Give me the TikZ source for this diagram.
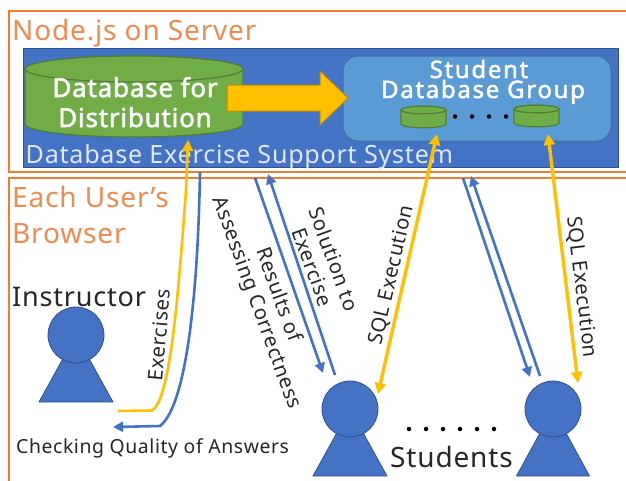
\documentclass[tikz,border=0pt]{standalone}
\usepackage{fontspec}
\setmainfont[LetterSpace=3,AutoFakeBold=2]{Noto Sans}
\newfontfamily\widefont[LetterSpace=7,AutoFakeBold=2]{Noto Sans}
\usetikzlibrary{arrows.meta}
\definecolor{orangeline}{HTML}{ED7D31}
\definecolor{orangetext}{HTML}{EE8B50}
\definecolor{bluefill}{HTML}{4472C4}
\definecolor{blueedge}{HTML}{2F528F}
\definecolor{greenfill}{HTML}{70AD47}
\definecolor{greenedge}{HTML}{507E32}
\definecolor{yellowfill}{HTML}{FFC000}
\definecolor{yellowedge}{HTML}{BC8C00}
\definecolor{skyfill}{HTML}{5B9BD5}
\definecolor{skyedge}{HTML}{41719C}
\definecolor{textdark}{HTML}{262626}
\definecolor{textlight}{HTML}{DEEBF7}
\tikzset{
  regionbox/.style={draw=orangeline,line width=1.6pt},
  headtext/.style={text=orangetext,font=\fontsize{28}{32}\selectfont,anchor=base west,inner sep=0pt},
  whitebold/.style={text=white,font=\fontsize{26}{28}\selectfont\bfseries,inner sep=0pt,anchor=base},
  whitegroup/.style={text=white,font=\fontsize{24}{26}\selectfont\widefont\bfseries,inner sep=0pt,anchor=base},
  darklabel/.style={text=textdark,inner sep=0pt,align=center},
  lab/.style={darklabel,font=\fontsize{20.3}{23}\selectfont},
  biglab/.style={darklabel,font=\fontsize{27}{30}\selectfont},
  cyl/.style={fill=greenfill,draw=greenedge,line width=1.2pt},
  person/.style={fill=bluefill,draw=blueedge,line width=0.8pt},
  yellowarrow/.style={draw=yellowfill,line width=2.6pt,-{Triangle[length=11pt,width=11pt]}},
  yellowboth/.style={draw=yellowfill,line width=3.4pt,{Triangle[length=11pt,width=11pt]}-{Triangle[length=11pt,width=11pt]}},
  bluearrow/.style={draw=bluefill,line width=2.6pt,-{Triangle[length=10pt,width=10pt]}},
  dotmark/.style={circle,fill=black,inner sep=0pt,minimum size=4.5pt}
}
\newcommand{\dbdrum}[5]{% xleft xright ytopcentre ybottomcentre ry
  \path[cyl] (#1,#3) -- (#1,#4) arc[start angle=180,end angle=360,x radius={(#2-#1)*0.5pt},y radius=#5pt] -- (#2,#3) arc[start angle=0,end angle=180,x radius={(#2-#1)*0.5pt},y radius=#5pt] -- cycle;
  \path[cyl] ({(#1+#2)/2},#3) ellipse[x radius={(#2-#1)*0.5pt},y radius=#5pt];
}
\newcommand{\personshape}[5]{% cx cy r base half width, basey
  \path[person] (#1-#4,#5) -- (#1,#2) -- (#1+#4,#5) -- cycle;
  \path[person] (#1,#2) circle[radius=#3];
}
\begin{document}
\begin{tikzpicture}[x=1pt,y=-1pt]
\useasboundingbox (0,0) rectangle (626,480);
\fill[white] (0,0) rectangle (626,480);
% regions
\draw[regionbox] (630,11) -- (9,11) -- (9,172) -- (630,172);
\draw[regionbox] (630,178) -- (9,178) -- (9,484);
\node[headtext] (serverlabel) at (12,40) {Node.js on Server};
\node[headtext] (browserlabel) at (12,207) {Each User’s};
\node[headtext] (browserlabeltwo) at (12,243) {Browser};
% system
\path[fill=bluefill,draw=blueedge,line width=1pt] (23,48) rectangle (618,167);
\node[text=textlight,font=\fontsize{25.1}{28}\selectfont,anchor=base west,inner sep=0pt] (systemlabel) at (25.5,163) {Database Exercise Support System};
\dbdrum{25}{243}{69}{124}{13}
\node[whitebold] (distone) at (135,97) {Database for};
\node[whitebold] (disttwo) at (135,127) {Distribution};
% student group
\path[fill=skyfill,draw=skyedge,line width=1pt,rounded corners=15pt] (343,56) rectangle (611,141);
\node[whitegroup] (groupone) at (479,78) {Student};
\node[whitegroup] (grouptwo) at (483,98) {Database Group};
\dbdrum{401}{446}{110}{124}{3.8}
\dbdrum{514}{559}{109}{123}{3.8}
\foreach \x in {455,472,489,506} \node[dotmark] at (\x,116.5) {};
% big arrow
\path[fill=yellowfill,draw=yellowedge,line width=1pt] (227,85) -- (320,85) -- (320,71) -- (348,98) -- (320,125) -- (320,111) -- (227,111) -- cycle;
% people
\personshape{76}{335}{28}{37}{402}
\personshape{350}{409}{28}{37}{476}
\personshape{553}{409}{28}{36.5}{476}
\node[biglab,anchor=base west] (instructor) at (12,306) {Instructor};
\node[biglab,anchor=base west,font=\fontsize{28}{30}\selectfont] (students) at (390,467) {Students};
\foreach \x in {409,426,443,460,477,494} \node[dotmark] at (\x,429) {};
% anchors of connectors
\coordinate (ytail) at (118,411);
\coordinate (ytip) at (188,140);
\coordinate (btail) at (200,172);
\coordinate (btip) at (113,427);
\coordinate (sqlaone) at (378,394);
\coordinate (sqlatwo) at (437,134);
\coordinate (sqlbone) at (578,383);
\coordinate (sqlbtwo) at (548,134);
\coordinate (resA) at (255,178);
\coordinate (resB) at (323,373);
\coordinate (solA) at (335,375);
\coordinate (solB) at (268,174);
\coordinate (resC) at (463,178);
\coordinate (resD) at (530,377);
\coordinate (solC) at (540,376);
\coordinate (solD) at (471,176);
% connectors
\draw[yellowarrow] (ytail) -- (152,410.5) .. controls (170,400) and (178,300) .. (186,190) -- (ytip);
\draw[bluearrow] (btail) .. controls (198,290) and (187,405) .. (160,426) -- (btip);
\draw[yellowboth] (sqlaone) -- (sqlatwo);
\draw[yellowboth] (sqlbone) -- (sqlbtwo);
\draw[bluearrow] (resA) -- (resB);
\draw[bluearrow] (solA) -- (solB);
\draw[bluearrow] (resC) -- (resD);
\draw[bluearrow] (solC) -- (solD);
% labels
\node[lab,rotate=85] (exerciseslabel) at (159,335) {Exercises};
\node[lab,anchor=base west,font=\fontsize{19.4}{22}\selectfont] (checking) at (16,453) {Checking Quality of Answers};
\node[lab,rotate=-70] (resultslabel) at (267,299) {Results of\\Assessing Correctness};
\node[lab,rotate=-70] (solutionlabel) at (323.5,263) {Solution to\\Exercise};
\node[lab,rotate=77] (sqlone) at (392,275) {SQL Execution};
\node[lab,rotate=-83] (sqltwo) at (581.5,287) {SQL Execution};
\end{tikzpicture}
\end{document}
